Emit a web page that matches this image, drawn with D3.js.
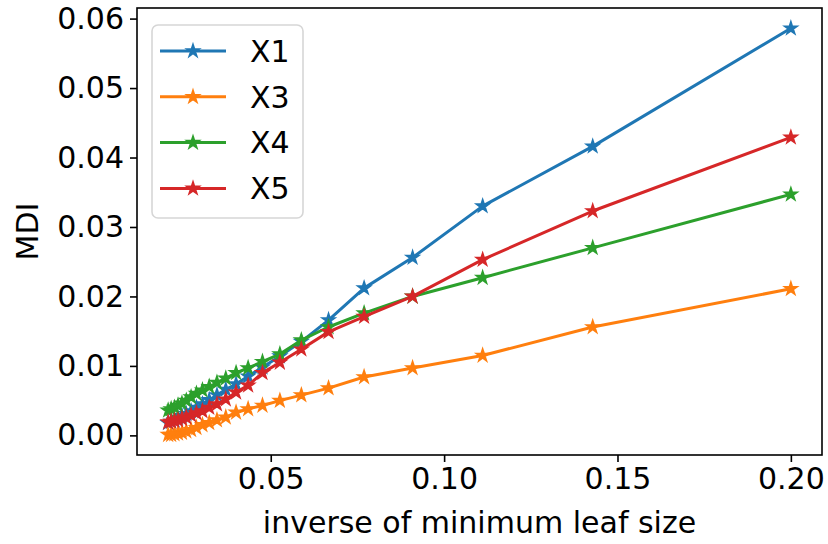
<!DOCTYPE html>
<html>
<head>
<meta charset="utf-8">
<script src="https://cdn.jsdelivr.net/npm/d3@7"></script>
<style>
  body { margin: 0; background: #fff; }
  text { font-family: "DejaVu Sans", sans-serif; fill: #000; }
</style>
</head>
<body>
<svg id="chart"></svg>
<script>
// inverse of minimum leaf size (leaf sizes 5, 7, ..., 49)
const invLeaf = [0.2, 0.142857, 0.111111, 0.090909, 0.076923, 0.066667, 0.058824, 0.052632,
                 0.047619, 0.043478, 0.04, 0.037037, 0.034483, 0.032258, 0.030303, 0.028571,
                 0.027027, 0.025641, 0.02439, 0.023256, 0.022222, 0.021277, 0.020408];

const x1 = [0.0586, 0.0416, 0.0330, 0.0256, 0.0212, 0.0166, 0.0135, 0.0114, 0.0098, 0.0085, 0.0074, 0.0066,
            0.0058, 0.0051, 0.0045, 0.0040, 0.0035, 0.0031, 0.0028, 0.0025, 0.0022, 0.0020, 0.0018];
const x3 = [0.0211, 0.0156, 0.0115, 0.0097, 0.0084, 0.0068, 0.0058, 0.0050, 0.0043, 0.0038, 0.0033, 0.0026,
            0.0022, 0.0018, 0.0015, 0.0011, 0.0008, 0.0006, 0.0004, 0.0003, 0.0002, 0.0001, 0.0001];
const x4 = [0.0347, 0.0270, 0.0227, 0.0200, 0.0176, 0.0156, 0.0137, 0.0117, 0.0106, 0.0097, 0.0090, 0.0082,
            0.0076, 0.0070, 0.0065, 0.0060, 0.0055, 0.0050, 0.0046, 0.0043, 0.0040, 0.0038, 0.0036];
const x5 = [0.0429, 0.0323, 0.0253, 0.0200, 0.0171, 0.0149, 0.0124, 0.0105, 0.0090, 0.0072, 0.0062, 0.0052,
            0.0045, 0.0040, 0.0035, 0.0032, 0.0029, 0.0026, 0.0024, 0.0022, 0.0021, 0.0020, 0.0019];

const seriesNames = ['X1', 'X3', 'X4', 'X5'];
const seriesValues = [x1, x3, x4, x5];
const colors = ['#1f77b4', '#ff7f0e', '#2ca02c', '#d62728'];

const xTicks = [0.05, 0.10, 0.15, 0.20];
const yTicks = [0.00, 0.01, 0.02, 0.03, 0.04, 0.05, 0.06];

const width = 828, height = 544;
const plotLeft = 137, plotRight = 822, plotTop = 8, plotBottom = 455;

const svg = d3.select('#chart')
    .attr('width', width)
    .attr('height', height);

// matplotlib style 5% margins
const xMin = d3.min(invLeaf), xMax = d3.max(invLeaf);
const allY = seriesValues.flat();
const yMin = d3.min(allY), yMax = d3.max(allY);
const xPad = (xMax - xMin) * 0.05, yPad = (yMax - yMin) * 0.05;

const xScale = d3.scaleLinear().domain([xMin - xPad, xMax + xPad]).range([plotLeft, plotRight]);
const yScale = d3.scaleLinear().domain([yMin - yPad, yMax + yPad]).range([plotBottom, plotTop]);

// series
const line = d3.line()
    .x((d) => xScale(d[0]))
    .y((d) => yScale(d[1]));

const star = d3.symbol().type(d3.symbolStar).size(40);

seriesValues.forEach((vals, i) => {
    const pts = invLeaf.map((v, j) => [v, vals[j]]);
    const g = svg.append('g');
    g.append('path')
        .datum(pts)
        .attr('d', line)
        .attr('fill', 'none')
        .attr('stroke', colors[i])
        .attr('stroke-width', 3)
        .attr('stroke-linejoin', 'round')
        .attr('stroke-linecap', 'square');
    g.selectAll('path.star')
        .data(pts)
        .enter()
        .append('path')
        .attr('class', 'star')
        .attr('d', star)
        .attr('transform', (d) => `translate(${xScale(d[0])},${yScale(d[1])})`)
        .attr('fill', colors[i])
        .attr('stroke', colors[i])
        .attr('stroke-width', 2)
        .attr('stroke-linejoin', 'miter');
});

// axes
const xAxis = d3.axisBottom(xScale)
    .tickValues(xTicks)
    .tickFormat(d3.format('.2f'))
    .tickSizeInner(7).tickSizeOuter(0).tickPadding(6);

const yAxis = d3.axisLeft(yScale)
    .tickValues(yTicks)
    .tickFormat(d3.format('.2f'))
    .tickSizeInner(7).tickSizeOuter(0).tickPadding(6);

const gx = svg.append('g')
    .attr('transform', `translate(0,${plotBottom})`)
    .call(xAxis);
const gy = svg.append('g')
    .attr('transform', `translate(${plotLeft},0)`)
    .call(yAxis);

[gx, gy].forEach((g) => {
    g.select('.domain').remove();
    g.selectAll('line').attr('stroke', '#000').attr('stroke-width', 1.6);
    g.selectAll('text').style('font-size', '30px').attr('fill', '#000');
});

// frame
svg.append('rect')
    .attr('x', plotLeft).attr('y', plotTop)
    .attr('width', plotRight - plotLeft).attr('height', plotBottom - plotTop)
    .attr('fill', 'none')
    .attr('stroke', '#000')
    .attr('stroke-width', 1.6);

// axis labels
svg.append('text')
    .attr('x', (plotLeft + plotRight) / 2)
    .attr('y', 533)
    .attr('text-anchor', 'middle')
    .style('font-size', '30px')
    .text('inverse of minimum leaf size');

svg.append('text')
    .attr('transform', `translate(38,${(plotTop + plotBottom) / 2}) rotate(-90)`)
    .attr('text-anchor', 'middle')
    .style('font-size', '30px')
    .text('MDI');

// legend
const legend = svg.append('g');
legend.append('rect')
    .attr('x', 152).attr('y', 25)
    .attr('width', 151).attr('height', 193)
    .attr('rx', 6).attr('ry', 6)
    .attr('fill', 'rgba(255,255,255,0.8)')
    .attr('stroke', '#d6d6d6')
    .attr('stroke-width', 1.6);

seriesNames.forEach((name, i) => {
    const yy = 51 + i * 45.8;
    legend.append('line')
        .attr('x1', 160).attr('x2', 226)
        .attr('y1', yy).attr('y2', yy)
        .attr('stroke', colors[i])
        .attr('stroke-width', 3);
    legend.append('path')
        .attr('d', star)
        .attr('transform', `translate(193,${yy})`)
        .attr('fill', colors[i])
        .attr('stroke', colors[i])
        .attr('stroke-width', 2);
    legend.append('text')
        .attr('x', 250)
        .attr('y', yy)
        .attr('dy', '0.36em')
        .style('font-size', '30px')
        .text(name);
});
</script>
</body>
</html>
